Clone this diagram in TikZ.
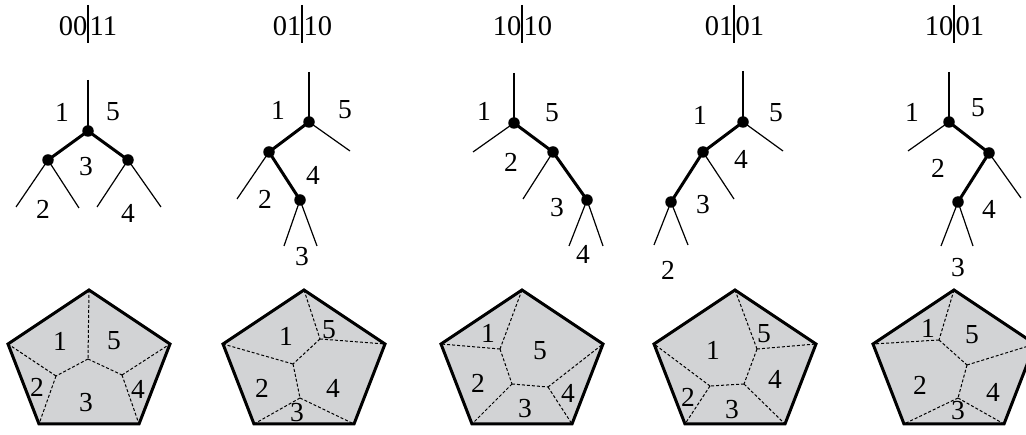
\documentclass[tikz,border=0pt]{standalone}
\usepackage{fontspec}
\setmainfont{Liberation Serif}
\definecolor{facegray}{RGB}{210,211,213}
\tikzset{
  lab/.style={inner sep=0pt, font=\fontsize{27.5}{29}\selectfont},
  toplab/.style={inner sep=0pt, font=\fontsize{28.5}{30}\selectfont},
  sepbar/.style={line width=1.1pt},
  thinedge/.style={line width=1.2pt},
  thickedge/.style={line width=3pt},
  dot/.style={circle, fill=black, inner sep=0pt, minimum size=11.5pt},
  pent/.style={fill=facegray, draw=black, line width=3pt, line join=miter},
  cut/.style={line width=1pt, dash pattern=on 3pt off 2pt},
}
\begin{document}
\begin{tikzpicture}[x=1pt, y=-1pt]
\useasboundingbox (0,0) rectangle (1026,435);
\clip (0,0) rectangle (1026,435);

% ---------- top words with the split bar ----------
\foreach \i/\bx/\wl/\wr in {1/88/00/11, 2/302/01/10, 3/522/10/10, 4/734/01/01, 5/954/10/01}{
  \coordinate (bar\i t) at (\bx,5);
  \coordinate (bar\i b) at (\bx,43);
  \draw[sepbar] (bar\i t) -- (bar\i b);
  \node[toplab, anchor=base east] (w\i l) at (\bx-0.5,36) {\wl};
  \node[toplab, anchor=base west] (w\i r) at (\bx+1.5,36) {\wr};
}

% ---------- tree 1 ----------
\coordinate (t1top) at (88,80);
\node[dot] (t1r) at (88,131) {};
\node[dot] (t1a) at (48,160) {};
\node[dot] (t1b) at (128,160) {};
\coordinate (t1a1) at (16,207);
\coordinate (t1a2) at (79,208);
\coordinate (t1b1) at (97,207);
\coordinate (t1b2) at (161,207);
\draw[thinedge] (t1top) -- (t1r.center);
\draw[thickedge] (t1r.center) -- (t1a.center);
\draw[thickedge] (t1r.center) -- (t1b.center);
\draw[thinedge] (t1a.center) -- (t1a1);
\draw[thinedge] (t1a.center) -- (t1a2);
\draw[thinedge] (t1b.center) -- (t1b1);
\draw[thinedge] (t1b.center) -- (t1b2);
\node[lab] (t1l1) at (62,112) {1};
\node[lab] (t1l5) at (113,112) {5};
\node[lab] (t1l3) at (86,167) {3};
\node[lab] (t1l2) at (43,209) {2};
\node[lab] (t1l4) at (128,213) {4};

% ---------- tree 2 ----------
\coordinate (t2top) at (309,72);
\node[dot] (t2r) at (309,122) {};
\coordinate (t2rl) at (350,151);
\node[dot] (t2a) at (269,152) {};
\coordinate (t2a1) at (237,199);
\node[dot] (t2g) at (300,200) {};
\coordinate (t2g1) at (284,246);
\coordinate (t2g2) at (317,246);
\draw[thinedge] (t2top) -- (t2r.center);
\draw[thinedge] (t2r.center) -- (t2rl);
\draw[thickedge] (t2r.center) -- (t2a.center);
\draw[thinedge] (t2a.center) -- (t2a1);
\draw[thickedge] (t2a.center) -- (t2g.center);
\draw[thinedge] (t2g.center) -- (t2g1);
\draw[thinedge] (t2g.center) -- (t2g2);
\node[lab] (t2l1) at (278,110) {1};
\node[lab] (t2l5) at (345,110) {5};
\node[lab] (t2l4) at (313,175) {4};
\node[lab] (t2l2) at (265,199) {2};
\node[lab] (t2l3) at (302,257) {3};

% ---------- tree 3 ----------
\coordinate (t3top) at (514,73);
\node[dot] (t3r) at (514,123) {};
\coordinate (t3rl) at (473,152);
\node[dot] (t3a) at (553,152) {};
\coordinate (t3a1) at (523,199);
\node[dot] (t3g) at (587,200) {};
\coordinate (t3g1) at (569,246);
\coordinate (t3g2) at (603,246);
\draw[thinedge] (t3top) -- (t3r.center);
\draw[thinedge] (t3r.center) -- (t3rl);
\draw[thickedge] (t3r.center) -- (t3a.center);
\draw[thinedge] (t3a.center) -- (t3a1);
\draw[thickedge] (t3a.center) -- (t3g.center);
\draw[thinedge] (t3g.center) -- (t3g1);
\draw[thinedge] (t3g.center) -- (t3g2);
\node[lab] (t3l1) at (484,111) {1};
\node[lab] (t3l5) at (552,113) {5};
\node[lab] (t3l2) at (511,162) {2};
\node[lab] (t3l3) at (557,208) {3};
\node[lab] (t3l4) at (583,254) {4};

% ---------- tree 4 ----------
\coordinate (t4top) at (743,71);
\node[dot] (t4r) at (743,122) {};
\coordinate (t4rl) at (783,151);
\node[dot] (t4a) at (703,152) {};
\coordinate (t4a1) at (734,199);
\node[dot] (t4g) at (671,202) {};
\coordinate (t4g1) at (654,245);
\coordinate (t4g2) at (688,245);
\draw[thinedge] (t4top) -- (t4r.center);
\draw[thinedge] (t4r.center) -- (t4rl);
\draw[thickedge] (t4r.center) -- (t4a.center);
\draw[thinedge] (t4a.center) -- (t4a1);
\draw[thickedge] (t4a.center) -- (t4g.center);
\draw[thinedge] (t4g.center) -- (t4g1);
\draw[thinedge] (t4g.center) -- (t4g2);
\node[lab] (t4l1) at (700,115) {1};
\node[lab] (t4l5) at (776,113) {5};
\node[lab] (t4l4) at (741,159) {4};
\node[lab] (t4l3) at (703,205) {3};
\node[lab] (t4l2) at (668,270) {2};

% ---------- tree 5 ----------
\coordinate (t5top) at (949,72);
\node[dot] (t5r) at (949,122) {};
\coordinate (t5rl) at (908,151);
\node[dot] (t5a) at (989,153) {};
\coordinate (t5a1) at (1021,198);
\node[dot] (t5g) at (958,202) {};
\coordinate (t5g1) at (941,246);
\coordinate (t5g2) at (973,246);
\draw[thinedge] (t5top) -- (t5r.center);
\draw[thinedge] (t5r.center) -- (t5rl);
\draw[thickedge] (t5r.center) -- (t5a.center);
\draw[thinedge] (t5a.center) -- (t5a1);
\draw[thickedge] (t5a.center) -- (t5g.center);
\draw[thinedge] (t5g.center) -- (t5g1);
\draw[thinedge] (t5g.center) -- (t5g2);
\node[lab] (t5l1) at (912,112) {1};
\node[lab] (t5l5) at (978,108) {5};
\node[lab] (t5l2) at (938,168) {2};
\node[lab] (t5l4) at (989,209) {4};
\node[lab] (t5l3) at (958,268) {3};

% ---------- pentagon outlines ----------
\foreach \i/\px in {1/89, 2/304, 3/522, 4/735, 5/954}{
  \coordinate (p\i T) at (\px,290);
  \coordinate (p\i L) at (\px-81,344);
  \coordinate (p\i R) at (\px+81,344);
  \coordinate (p\i BL) at (\px-50,424);
  \coordinate (p\i BR) at (\px+50,424);
  \draw[pent] (p\i T) -- (p\i R) -- (p\i BR) -- (p\i BL) -- (p\i L) -- cycle;
}

% ---------- pentagon 1 subdivision ----------
\coordinate (p1c) at (88,359);
\coordinate (p1l) at (56,376);
\coordinate (p1r) at (122,375);
\draw[cut] (p1T) -- (p1c);
\draw[cut] (p1c) -- (p1l);
\draw[cut] (p1c) -- (p1r);
\draw[cut] (p1l) -- (p1L);
\draw[cut] (p1l) -- (p1BL);
\draw[cut] (p1r) -- (p1R);
\draw[cut] (p1r) -- (p1BR);
\node[lab] (p1n1) at (60,341) {1};
\node[lab] (p1n5) at (114,341) {5};
\node[lab] (p1n2) at (37,387) {2};
\node[lab] (p1n3) at (86,403) {3};
\node[lab] (p1n4) at (138,389) {4};

% ---------- pentagon 2 subdivision ----------
\coordinate (p2a) at (320,339);
\coordinate (p2b) at (293,364);
\coordinate (p2c) at (300,398);
\draw[cut] (p2T) -- (p2a);
\draw[cut] (p2a) -- (p2R);
\draw[cut] (p2a) -- (p2b);
\draw[cut] (p2b) -- (p2L);
\draw[cut] (p2b) -- (p2c);
\draw[cut] (p2c) -- (p2BL);
\draw[cut] (p2c) -- (p2BR);
\node[lab] (p2n1) at (286,336) {1};
\node[lab] (p2n5) at (329,330) {5};
\node[lab] (p2n2) at (262,388) {2};
\node[lab] (p2n4) at (333,388) {4};
\node[lab] (p2n3) at (297,413) {3};

% ---------- pentagon 3 subdivision ----------
\coordinate (p3a) at (500,349);
\coordinate (p3b) at (512,384);
\coordinate (p3c) at (548,387);
\draw[cut] (p3T) -- (p3a);
\draw[cut] (p3a) -- (p3L);
\draw[cut] (p3a) -- (p3b);
\draw[cut] (p3b) -- (p3BL);
\draw[cut] (p3b) -- (p3c);
\draw[cut] (p3c) -- (p3R);
\draw[cut] (p3c) -- (p3BR);
\node[lab] (p3n1) at (488,333) {1};
\node[lab] (p3n5) at (540,351) {5};
\node[lab] (p3n2) at (478,383) {2};
\node[lab] (p3n3) at (525,409) {3};
\node[lab] (p3n4) at (568,393) {4};

% ---------- pentagon 4 subdivision ----------
\coordinate (p4a) at (757,349);
\coordinate (p4b) at (744,384);
\coordinate (p4c) at (710,386);
\draw[cut] (p4T) -- (p4a);
\draw[cut] (p4a) -- (p4R);
\draw[cut] (p4a) -- (p4b);
\draw[cut] (p4b) -- (p4c);
\draw[cut] (p4b) -- (p4BR);
\draw[cut] (p4c) -- (p4L);
\draw[cut] (p4c) -- (p4BL);
\node[lab] (p4n1) at (713,350) {1};
\node[lab] (p4n5) at (764,334) {5};
\node[lab] (p4n4) at (775,379) {4};
\node[lab] (p4n2) at (688,397) {2};
\node[lab] (p4n3) at (732,410) {3};

% ---------- pentagon 5 subdivision ----------
\coordinate (p5a) at (939,340);
\coordinate (p5b) at (967,365);
\coordinate (p5c) at (958,398);
\draw[cut] (p5T) -- (p5a);
\draw[cut] (p5a) -- (p5L);
\draw[cut] (p5a) -- (p5b);
\draw[cut] (p5b) -- (p5R);
\draw[cut] (p5b) -- (p5c);
\draw[cut] (p5c) -- (p5BL);
\draw[cut] (p5c) -- (p5BR);
\node[lab] (p5n1) at (928,328) {1};
\node[lab] (p5n5) at (972,335) {5};
\node[lab] (p5n2) at (920,385) {2};
\node[lab] (p5n4) at (993,392) {4};
\node[lab] (p5n3) at (958,411) {3};
\end{tikzpicture}
\end{document}
